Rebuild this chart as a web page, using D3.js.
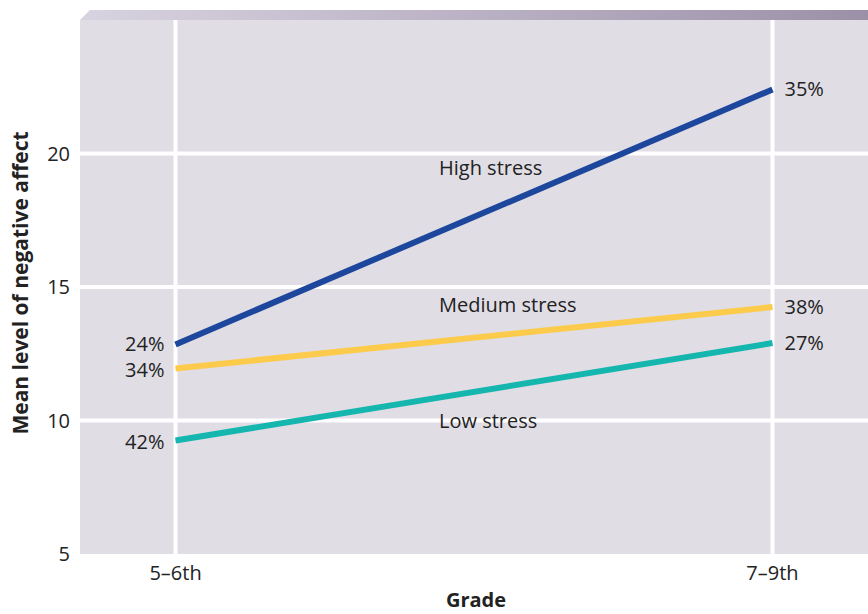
<!DOCTYPE html>
<html>
<head>
<meta charset="utf-8">
<script src="https://cdn.jsdelivr.net/npm/d3@7"></script>
<style>
  body { margin: 0; background: #fff; }
  svg { display: block; font-family: "Open Sans", Lato, sans-serif; }
</style>
</head>
<body>
<div id="chart"></div>
<script>
/* negative affect by grade and stress level */

const grades = ["5–6th", "7–9th"];
const seriesNames = ["High stress", "Medium stress", "Low stress"];
const highStress = [12.85, 22.4];
const mediumStress = [11.95, 14.25];
const lowStress = [9.25, 12.9];
const startPct = ["24%", "34%", "42%"];
const endPct = ["35%", "38%", "27%"];
const yTicks = [5, 10, 15, 20];

const width = 868, height = 614,
    margin = ({top: 20, right: 0, bottom: 60, left: 80});

const series = [
    {name: seriesNames[0], values: highStress, color: "#1d479d", labelY: 19.45},
    {name: seriesNames[1], values: mediumStress, color: "#fdcb4c", labelY: 14.33},
    {name: seriesNames[2], values: lowStress, color: "#15b6ae", labelY: 9.98}
];

let svg = d3.select("#chart")
    .append("svg")
    .attr("width", width)
    .attr("height", height);

const x = d3.scalePoint()
    .domain(grades)
    .range([margin.left, width - margin.right])
    .padding(0.16);

const y = d3.scaleLinear()
    .domain([5, 25])
    .range([height - margin.bottom, margin.top]);

// gradient strip on top of the plot
const grad = svg.append("defs").append("linearGradient")
    .attr("id", "topband")
    .attr("x1", "0%").attr("x2", "100%");
grad.append("stop").attr("offset", "0%").attr("stop-color", "#d8d3e0");
grad.append("stop").attr("offset", "100%").attr("stop-color", "#9c90a8");

svg.append("path")
    .attr("d", `M${margin.left},${margin.top} L${margin.left + 10},${margin.top - 10} L${width},${margin.top - 10} L${width},${margin.top} Z`)
    .attr("fill", "url(#topband)");

svg.append("rect") // plot background
    .attr("x", margin.left)
    .attr("y", margin.top)
    .attr("width", width - margin.left - margin.right)
    .attr("height", y(5) - margin.top)
    .attr("fill", "#e0dde5");

// horizontal grid
svg.append("g")
    .selectAll("line")
    .data(yTicks.filter(d => d > 5))
    .join("line")
    .attr("x1", margin.left)
    .attr("x2", width)
    .attr("y1", d => y(d))
    .attr("y2", d => y(d))
    .attr("stroke", "#fff")
    .attr("stroke-width", 4);

// vertical grid
svg.append("g")
    .selectAll("line")
    .data(grades)
    .join("line")
    .attr("x1", d => x(d))
    .attr("x2", d => x(d))
    .attr("y1", margin.top)
    .attr("y2", y(5))
    .attr("stroke", "#fff")
    .attr("stroke-width", 4);

// y tick labels
svg.append("g")
    .selectAll("text")
    .data(yTicks)
    .join("text")
    .attr("x", margin.left - 10)
    .attr("y", d => y(d))
    .attr("dy", "0.35em")
    .attr("text-anchor", "end")
    .attr("font-size", 20)
    .attr("fill", "#222")
    .text(d => d);

// x tick labels
svg.append("g")
    .selectAll("text")
    .data(grades)
    .join("text")
    .attr("x", d => x(d))
    .attr("y", y(5) + 26)
    .attr("text-anchor", "middle")
    .attr("font-size", 20)
    .attr("fill", "#222")
    .text(d => d);

const line = d3.line()
    .x((d, i) => x(grades[i]))
    .y(d => y(d));

svg.append("g")
    .selectAll("path")
    .data(series)
    .join("path")
    .attr("d", d => line(d.values))
    .attr("fill", "none")
    .attr("stroke", d => d.color)
    .attr("stroke-width", 6);

// series names
svg.append("g")
    .selectAll("text")
    .data(series)
    .join("text")
    .attr("x", 439)
    .attr("y", d => y(d.labelY))
    .attr("dy", "0.35em")
    .attr("font-size", 20)
    .attr("fill", "#222")
    .text(d => d.name);

// percent labels, left end (stacked so they don't collide)
const leftLabelY = [12.85, 11.9, 9.2];
svg.append("g")
    .selectAll("text")
    .data(series)
    .join("text")
    .attr("x", x(grades[0]) - 11)
    .attr("y", (d, i) => y(leftLabelY[i]))
    .attr("dy", "0.35em")
    .attr("text-anchor", "end")
    .attr("font-size", 20)
    .attr("fill", "#222")
    .text((d, i) => startPct[i]);

svg.append("g")
    .selectAll("text")
    .data(series)
    .join("text")
    .attr("x", x(grades[1]) + 12)
    .attr("y", d => y(d.values[1]))
    .attr("dy", "0.35em")
    .attr("font-size", 20)
    .attr("fill", "#222")
    .text((d, i) => endPct[i]);

// axis titles
svg.append("text")
    .attr("transform", `translate(28,283) rotate(-90)`)
    .attr("text-anchor", "middle")
    .attr("font-size", 21)
    .attr("font-weight", "bold")
    .attr("fill", "#222")
    .text("Mean level of negative affect");

svg.append("text")
    .attr("x", (margin.left + width) / 2 + 2)
    .attr("y", height - 7)
    .attr("text-anchor", "middle")
    .attr("font-size", 20)
    .attr("font-weight", "bold")
    .attr("fill", "#222")
    .text("Grade");
</script>
</body>
</html>
